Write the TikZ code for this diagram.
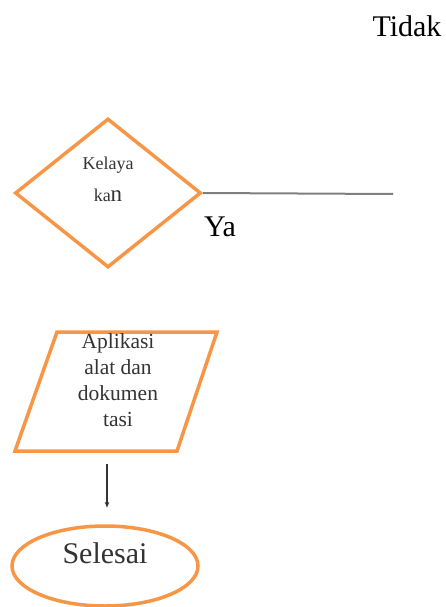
\documentclass[tikz,border=0pt]{standalone}
\usepackage{fontspec}
\setmainfont{Liberation Serif}
\usetikzlibrary{shapes.geometric,arrows.meta}
\definecolor{flowor}{HTML}{F79646}
\definecolor{txtgray}{HTML}{333333}
\definecolor{lngray}{HTML}{7F7F7F}
\tikzset{
  flowshape/.style={draw=flowor, line width=3.5pt, inner sep=0pt, fill=none},
  decbox/.style={flowshape, diamond, aspect=1.25, minimum width=186pt, minimum height=149pt},
  termbox/.style={flowshape, ellipse, minimum width=186pt, minimum height=80pt},
  inlabel/.style={text=txtgray, align=center, inner sep=0pt},
  bigword/.style={font=\fontsize{30}{32}\selectfont, inner sep=0pt},
  arr/.style={draw=txtgray, line width=2.8pt, -{Latex[length=6pt,width=5pt]}},
}
\begin{document}
\begin{tikzpicture}[x=1pt,y=-1pt]
  \useasboundingbox (0,0) rectangle (446,607);

  % decision
  \node[decbox] (dec) at (108,193) {};
  \node[inlabel, font=\fontsize{18}{32}\selectfont] (declbl) at (108,179)
       {Kelaya\\ka{\fontsize{23}{23}\selectfont n}};
  \coordinate (noend) at (393,194);
  \draw[lngray, line width=2pt] (dec.east) -- (noend);
  \node[bigword] (ya) at (220,227) {Ya};
  \node[bigword] (tidak) at (407,26) {Tidak};

  % input / output (parallelogram)
  \coordinate (iotl) at (57,332);
  \coordinate (iotr) at (217,332);
  \coordinate (iobr) at (177,451);
  \coordinate (iobl) at (15,451);
  \draw[flowor, line width=3.5pt, line join=miter] (iotl) -- (iotr) -- (iobr) -- (iobl) -- cycle;
  \node[inlabel, font=\fontsize{21.5}{26}\selectfont] (iolbl) at (118,380)
       {Aplikasi\\alat dan\\dokumen\\tasi};
  \coordinate (iobot) at (107,464);

  % terminator
  \node[termbox] (end) at (105,566) {};
  \node[inlabel, font=\fontsize{30}{32}\selectfont] (endlbl) at (105,553) {Selesai};

  \draw[arr, shorten >=16pt] (iobot) -- (iobot |- end.north);
\end{tikzpicture}
\end{document}
